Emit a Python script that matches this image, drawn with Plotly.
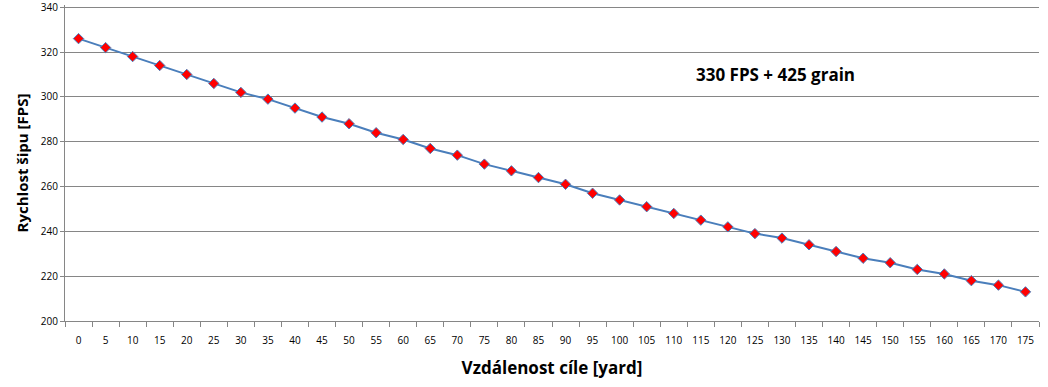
import plotly.graph_objects as go

distance = [0, 5, 10, 15, 20, 25, 30, 35, 40, 45, 50, 55, 60, 65, 70, 75, 80, 85,
            90, 95, 100, 105, 110, 115, 120, 125, 130, 135, 140, 145, 150, 155, 160,
            165, 170, 175]
speed = [326, 322, 318, 314, 310, 306, 302, 299, 295, 291, 288, 284, 281, 277, 274,
         270, 267, 264, 261, 257, 254, 251, 248, 245, 242, 239, 237, 234, 231, 228,
         226, 223, 221, 218, 216, 213]
x_labels = [str(d) for d in distance]
y_ticks = [200, 220, 240, 260, 280, 300, 320, 340]

FONT = "Open Sans, Liberation Sans, sans-serif"

fig = go.Figure()
fig.add_trace(go.Scatter(
    x=x_labels, y=speed, mode="lines+markers",
    line=dict(color="#4a7ebb", width=2),
    marker=dict(symbol="diamond", size=8, color="#ff0000",
                line=dict(color="#4a7ebb", width=1)),
    showlegend=False,
))

fig.add_annotation(
    text="<b>330 FPS + 425 grain</b>", x=0.729, y=0.78, xref="paper", yref="paper",
    xanchor="center", yanchor="middle",
    showarrow=False, font=dict(family=FONT, size=17, color="#000000"),
)

axis_font = dict(family=FONT, size=10, color="#000000")
fig.update_layout(
    width=1048, height=387,
    margin=dict(l=65, r=9, t=5, b=66),
    plot_bgcolor="white", paper_bgcolor="white",
    xaxis=dict(
        type="category", range=[-0.5, len(x_labels) - 0.5], automargin=False,
        tickson="boundaries", ticks="outside", ticklen=5,
        tickcolor="#868686", showline=True, linecolor="#868686", linewidth=1,
        showgrid=False, tickfont=axis_font, tickangle=0, ticklabelstandoff=10,
        title=dict(text="<b>Vzdálenost cíle [yard]</b>",
                   font=dict(family=FONT, size=17, color="#000000"),
                   standoff=16),
    ),
    yaxis=dict(
        range=[200, 341], tickvals=y_ticks, ticktext=[str(v) for v in y_ticks],
        automargin=False,
        ticks="outside", ticklen=4, tickcolor="#868686",
        showline=True, linecolor="#868686", linewidth=1,
        showgrid=True, gridcolor="#868686", gridwidth=1, zeroline=False,
        tickfont=axis_font, ticklabeloverflow="allow",
        title=dict(text="<b>Rychlost šipu [FPS]</b>",
                   font=dict(family=FONT, size=15, color="#000000"),
                   standoff=8),
    ),
)

fig.write_html("out.html")
